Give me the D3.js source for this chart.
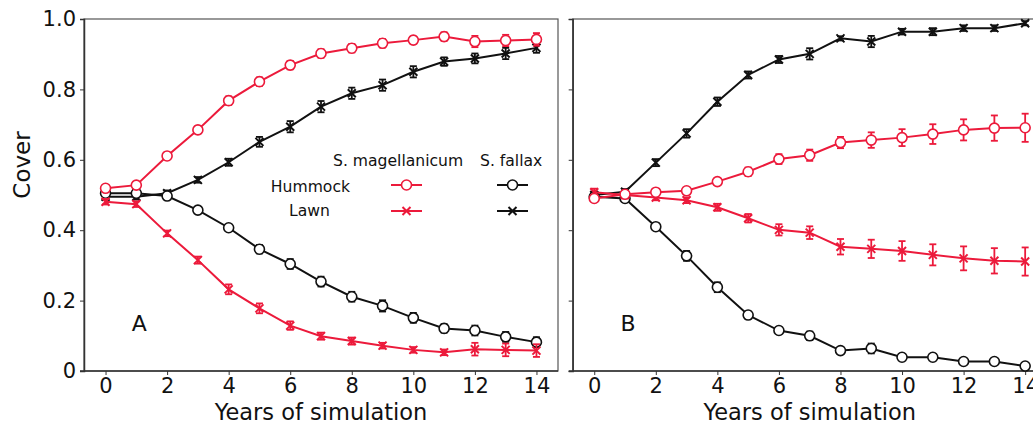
<!DOCTYPE html>
<html>
<head>
<meta charset="utf-8">
<script src="https://cdn.jsdelivr.net/npm/d3@7"></script>
<style>
  body { margin: 0; background: #fff; }
  svg text { font-family: "DejaVu Sans", sans-serif; fill: #111; }
</style>
</head>
<body>
<svg id="chart" width="1033" height="425"></svg>
<script>
var years = d3.range(0, 15);
var yTicks = [0, 0.2, 0.4, 0.6, 0.8, 1.0];
var xTicks = [0, 2, 4, 6, 8, 10, 12, 14];

// panel A
var aMagHum = [0.519, 0.528, 0.611, 0.685, 0.768, 0.822, 0.869, 0.902, 0.917, 0.931, 0.940, 0.950, 0.936, 0.939, 0.942];
var aMagHumErr = [0.008, 0.008, 0.008, 0.010, 0.012, 0.012, 0.012, 0.012, 0.012, 0.012, 0.010, 0.012, 0.016, 0.016, 0.018];
var aMagLawn = [0.481, 0.474, 0.391, 0.315, 0.232, 0.178, 0.129, 0.099, 0.085, 0.072, 0.060, 0.053, 0.062, 0.060, 0.058];
var aMagLawnErr = [0.008, 0.008, 0.008, 0.010, 0.014, 0.014, 0.012, 0.010, 0.010, 0.008, 0.008, 0.008, 0.018, 0.018, 0.018];
var aFalHum = [0.505, 0.505, 0.497, 0.457, 0.407, 0.346, 0.304, 0.254, 0.211, 0.185, 0.151, 0.121, 0.115, 0.097, 0.082];
var aFalHumErr = [0.008, 0.008, 0.008, 0.008, 0.008, 0.012, 0.014, 0.014, 0.014, 0.016, 0.014, 0.012, 0.014, 0.014, 0.014];
var aFalLawn = [0.495, 0.495, 0.505, 0.543, 0.593, 0.651, 0.694, 0.751, 0.789, 0.812, 0.850, 0.879, 0.888, 0.902, 0.918];
var aFalLawnErr = [0.008, 0.008, 0.008, 0.008, 0.010, 0.014, 0.016, 0.016, 0.016, 0.016, 0.016, 0.012, 0.014, 0.016, 0.014];

// panel B
var bMagHum = [0.490, 0.502, 0.508, 0.512, 0.538, 0.566, 0.602, 0.613, 0.649, 0.656, 0.663, 0.673, 0.685, 0.690, 0.691];
var bMagHumErr = [0.008, 0.008, 0.008, 0.008, 0.008, 0.012, 0.014, 0.016, 0.016, 0.022, 0.024, 0.028, 0.030, 0.036, 0.040];
var bMagLawn = [0.508, 0.500, 0.493, 0.485, 0.465, 0.434, 0.401, 0.393, 0.353, 0.347, 0.341, 0.330, 0.320, 0.313, 0.311];
var bMagLawnErr = [0.010, 0.008, 0.008, 0.008, 0.010, 0.012, 0.016, 0.018, 0.022, 0.026, 0.028, 0.030, 0.034, 0.036, 0.040];
var bFalHum = [0.495, 0.490, 0.410, 0.327, 0.238, 0.159, 0.115, 0.100, 0.058, 0.064, 0.039, 0.039, 0.027, 0.027, 0.014];
var bFalHumErr = [0.008, 0.008, 0.008, 0.014, 0.014, 0.010, 0.008, 0.012, 0.006, 0.014, 0.006, 0.008, 0.006, 0.006, 0.006];
var bFalLawn = [0.500, 0.509, 0.592, 0.675, 0.765, 0.841, 0.885, 0.901, 0.945, 0.936, 0.964, 0.964, 0.974, 0.974, 0.988];
var bFalLawnErr = [0.008, 0.008, 0.010, 0.012, 0.012, 0.010, 0.010, 0.016, 0.006, 0.016, 0.008, 0.010, 0.008, 0.008, 0.006];

var red = "#ec1a3b";
var black = "#111111";

var svg = d3.select("#chart");
var y = d3.scaleLinear().domain([0, 1]).range([371, 19]);

function drawPanel(left, right, letter, showYLabels, series) {
  var x = d3.scaleLinear().domain([-0.7, 14.7]).range([left, right]);
  var g = svg.append("g");

  // frame
  g.append("rect")
    .attr("x", left).attr("y", y(1))
    .attr("width", right - left).attr("height", y(0) - y(1))
    .attr("fill", "none").attr("stroke", "#555").attr("stroke-width", 1.2);

  var yAxis = d3.axisLeft(y).tickValues(yTicks).tickSize(4)
    .tickFormat(function(d) { return showYLabels ? (d === 0 ? "0" : d.toFixed(1)) : ""; });
  g.append("g").attr("transform", "translate(" + left + ",0)").call(yAxis)
    .call(function(a) {
      a.select(".domain").attr("stroke", "#333").attr("stroke-width", 1.5);
      a.selectAll(".tick line").attr("stroke", "#333");
      a.selectAll("text").style("font-size", "21px").attr("x", -8).attr("fill", "#111");
    });

  var xAxis = d3.axisBottom(x).tickValues(xTicks).tickSize(4).tickSizeOuter(0);
  g.append("g").attr("transform", "translate(0," + y(0) + ")").call(xAxis)
    .call(function(a) {
      a.select(".domain").attr("stroke", "#333").attr("stroke-width", 1.5)
        .attr("d", "M" + (left - 4) + ",0H" + right);
      a.selectAll(".tick line").attr("stroke", "#333");
      a.selectAll("text").style("font-size", "21px").attr("y", 7).attr("fill", "#111");
    });

  g.append("text")
    .attr("x", (x(0) + x(14)) / 2).attr("y", 420)
    .attr("text-anchor", "middle").style("font-size", "22.5px")
    .text("Years of simulation");

  g.append("text")
    .attr("x", x(0.85)).attr("y", 331)
    .style("font-size", "22px")
    .text(letter);

  series.forEach(function(s) {
    var sg = g.append("g");
    var line = d3.line().x(function(d, i) { return x(years[i]); }).y(function(d) { return y(d); });
    sg.append("path").datum(s.values)
      .attr("d", line).attr("fill", "none")
      .attr("stroke", s.color).attr("stroke-width", 2);

    var eb = sg.selectAll(".eb").data(s.values).enter().append("g");
    eb.append("line")
      .attr("x1", function(d, i) { return x(years[i]); })
      .attr("x2", function(d, i) { return x(years[i]); })
      .attr("y1", function(d, i) { return y(d - s.err[i]); })
      .attr("y2", function(d, i) { return y(d + s.err[i]); })
      .attr("stroke", s.color).attr("stroke-width", 1.8);
    [-1, 1].forEach(function(sign) {
      eb.append("line")
        .attr("x1", function(d, i) { return x(years[i]) - 3.5; })
        .attr("x2", function(d, i) { return x(years[i]) + 3.5; })
        .attr("y1", function(d, i) { return y(d + sign * s.err[i]); })
        .attr("y2", function(d, i) { return y(d + sign * s.err[i]); })
        .attr("stroke", s.color).attr("stroke-width", 1.8);
    });

    drawMarkers(sg, s.values.map(function(d, i) { return [x(years[i]), y(d)]; }), s.marker, s.color);
  });
}

function drawMarkers(g, pts, marker, color) {
  if (marker === "circle") {
    g.selectAll(".mk").data(pts).enter().append("circle")
      .attr("cx", function(d) { return d[0]; }).attr("cy", function(d) { return d[1]; })
      .attr("r", 5).attr("fill", "#fff")
      .attr("stroke", color).attr("stroke-width", 1.6);
  } else {
    g.selectAll(".mk").data(pts).enter().append("path")
      .attr("d", function(d) {
        var s = 4;
        return "M" + (d[0] - s) + "," + (d[1] - s) + "L" + (d[0] + s) + "," + (d[1] + s) +
               "M" + (d[0] - s) + "," + (d[1] + s) + "L" + (d[0] + s) + "," + (d[1] - s);
      })
      .attr("stroke", color).attr("stroke-width", 2).attr("fill", "none");
  }
}

drawPanel(84, 558, "A", true, [
  { values: aFalLawn, err: aFalLawnErr, color: black, marker: "x" },
  { values: aFalHum, err: aFalHumErr, color: black, marker: "circle" },
  { values: aMagLawn, err: aMagLawnErr, color: red, marker: "x" },
  { values: aMagHum, err: aMagHumErr, color: red, marker: "circle" }
]);

drawPanel(572.7, 1046.7, "B", false, [
  { values: bFalLawn, err: bFalLawnErr, color: black, marker: "x" },
  { values: bFalHum, err: bFalHumErr, color: black, marker: "circle" },
  { values: bMagLawn, err: bMagLawnErr, color: red, marker: "x" },
  { values: bMagHum, err: bMagHumErr, color: red, marker: "circle" }
]);

// y label
svg.append("text")
  .attr("transform", "translate(30,165) rotate(-90)")
  .attr("text-anchor", "middle").style("font-size", "23px")
  .text("Cover");

// legend
var legend = svg.append("g");
legend.append("text").attr("x", 333).attr("y", 166).style("font-size", "15.6px").text("S. magellanicum");
legend.append("text").attr("x", 480).attr("y", 166).style("font-size", "15.6px").text("S. fallax");
legend.append("text").attr("x", 350).attr("y", 192).attr("text-anchor", "end").style("font-size", "15.6px").text("Hummock");
legend.append("text").attr("x", 330).attr("y", 216).attr("text-anchor", "end").style("font-size", "15.6px").text("Lawn");

var legendRows = [
  { y: 185, marker: "circle" },
  { y: 211, marker: "x" }
];
var legendCols = [
  { x0: 391, x1: 422, color: red },
  { x0: 497, x1: 528, color: black }
];
legendRows.forEach(function(r) {
  legendCols.forEach(function(c) {
    legend.append("line")
      .attr("x1", c.x0).attr("x2", c.x1).attr("y1", r.y).attr("y2", r.y)
      .attr("stroke", c.color).attr("stroke-width", 2);
    drawMarkers(legend.append("g"), [[(c.x0 + c.x1) / 2, r.y]], r.marker, c.color);
  });
});
</script>
</body>
</html>
